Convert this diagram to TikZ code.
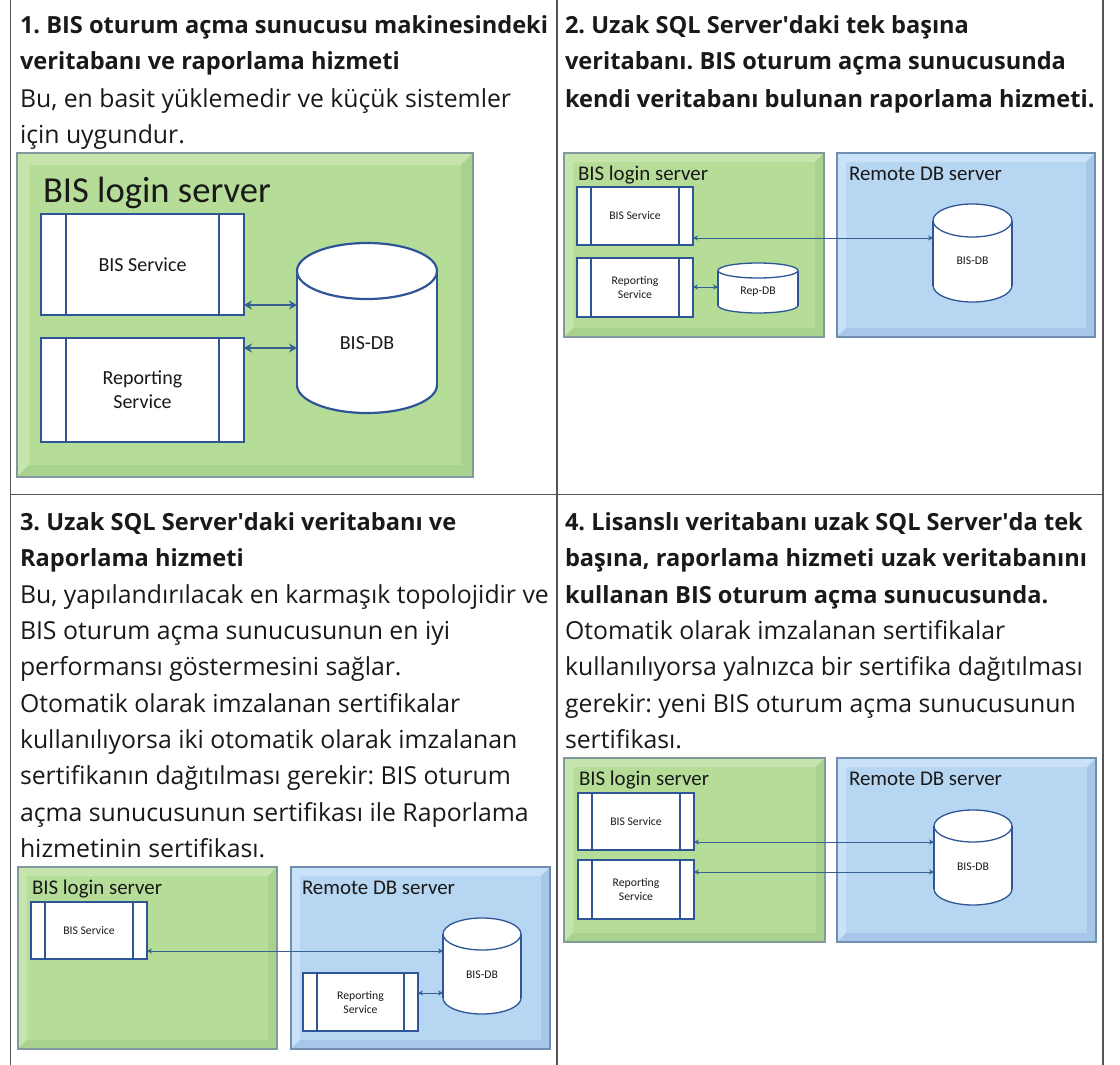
\documentclass[tikz,border=0pt]{standalone}
\usepackage{fontspec}
\setmainfont{Open Sans}
\newfontfamily\calfont{Carlito}
\usetikzlibrary{arrows.meta}
\frenchspacing
\definecolor{txt}{RGB}{25,25,25}
\definecolor{rule}{RGB}{85,85,85}
\definecolor{gmain}{RGB}{181,221,152}
\definecolor{glight}{RGB}{197,229,173}
\definecolor{gdark}{RGB}{169,210,142}
\definecolor{gedge}{RGB}{128,152,158}
\definecolor{bmain}{RGB}{183,214,242}
\definecolor{blight}{RGB}{201,226,248}
\definecolor{bdark}{RGB}{166,199,232}
\definecolor{bedge}{RGB}{112,142,178}
\definecolor{sline}{RGB}{47,85,151}
\definecolor{acol}{RGB}{55,96,146}
\newcommand\bevelfill[3]{%
  \path (path picture bounding box.north west) coordinate (pNW)
        (path picture bounding box.north east) coordinate (pNE)
        (path picture bounding box.south west) coordinate (pSW)
        (path picture bounding box.south east) coordinate (pSE);
  \path ([xshift=#3,yshift=-#3]pNW) coordinate (qNW)
        ([xshift=-#3,yshift=-#3]pNE) coordinate (qNE)
        ([xshift=#3,yshift=#3]pSW) coordinate (qSW)
        ([xshift=-#3,yshift=#3]pSE) coordinate (qSE);
  \fill[#1] (pNW) -- (pNE) -- (qNE) -- (qNW) -- cycle;
  \fill[#1] (pNW) -- (qNW) -- (qSW) -- (pSW) -- cycle;
  \fill[#2] (pNE) -- (pSE) -- (qSE) -- (qNE) -- cycle;
  \fill[#2] (pSW) -- (pSE) -- (qSE) -- (qSW) -- cycle;
}
\newcommand\panel[6]{%
  \node[#6, anchor=north west, minimum width={#4-#2}, minimum height={#5-#3}] (#1) at (#2,#3) {};
}
\newcommand\svcbox[7]{% name x1 y1 x2 y2 style text
  \node[#6, anchor=north west, minimum width={#4-#2}, minimum height={#5-#3}] (#1) at (#2,#3) {#7};
}
\newcommand\dbcyl[7]{% name cx top bottom rx ry style
  \fill[white] (#2-#5,#3+#6) rectangle (#2+#5,#4-#6);
  \fill[white] (#2,#4-#6) ellipse [x radius=#5pt, y radius=#6pt];
  \begin{scope}
    \clip (#2-#5-5,#4-#6) rectangle (#2+#5+5,#4+5);
    \draw[#7] (#2,#4-#6) ellipse [x radius=#5pt, y radius=#6pt];
  \end{scope}
  \draw[#7] (#2-#5,#3+#6) -- (#2-#5,#4-#6) (#2+#5,#3+#6) -- (#2+#5,#4-#6);
  \draw[#7, fill=white] (#2,#3+#6) ellipse [x radius=#5pt, y radius=#6pt];
  \node[minimum width={2*#5}, minimum height={#4-#3}] (#1) at (#2,{(#3+#4)/2}) {};
}
\tikzset{
  every node/.style={inner sep=0pt, outer sep=0pt},
  ttl/.style={anchor=base west, text=txt, font=\fontsize{23.6}{28}\selectfont\bfseries},
  bdy/.style={anchor=base west, text=txt, font=\fontsize{24.8}{28}\selectfont},
  gpanel/.style={draw=gedge, line width=1.6pt, fill=gmain, path picture={\bevelfill{glight}{gdark}{#1}}},
  bpanel/.style={draw=bedge, line width=1.6pt, fill=bmain, path picture={\bevelfill{blight}{bdark}{#1}}},
  svc/.style 2 args={draw=sline, fill=white, line width=#2, align=center, text=txt,
    path picture={\draw[sline, line width=#2] ([xshift=#1]path picture bounding box.north west) -- ([xshift=#1]path picture bounding box.south west);
                  \draw[sline, line width=#2] ([xshift=-#1]path picture bounding box.north east) -- ([xshift=-#1]path picture bounding box.south east);}},
  bigsvc/.style={svc={25pt}{2.2pt}, font=\calfont\fontsize{20}{24}\selectfont},
  smsvc/.style={svc={14pt}{1.3pt}, font=\calfont\fontsize{11.7}{14}\selectfont},
  bigcyl/.style={draw=sline, line width=2.2pt},
  smcyl/.style={draw=sline, line width=1.3pt},
  bighead/.style={anchor=base west, text=txt, font=\calfont\fontsize{36.6}{40}\selectfont},
  smhead/.style={anchor=base west, text=txt, font=\calfont\fontsize{20.9}{24}\selectfont},
  biglab/.style={text=txt, font=\calfont\fontsize{20}{24}\selectfont},
  smlab/.style={text=txt, font=\calfont\fontsize{11.7}{14}\selectfont},
  bigarr/.style={draw=acol, line width=2.2pt, {Stealth[length=8pt,width=9pt]}-{Stealth[length=8pt,width=9pt]}},
  smarr/.style={draw=acol, line width=1pt, {Stealth[length=5pt,width=5pt]}-{Stealth[length=5pt,width=5pt]}},
  tline/.style={draw=rule, line width=1.8pt}
}
\begin{document}
\begin{tikzpicture}[x=1pt,y=-1pt]
\useasboundingbox (0,0) rectangle (1120,1065);
\fill[white] (0,0) rectangle (1120,1065);
% table rules
\coordinate (L0) at (10.5,0); \coordinate (L1) at (10.5,1065);
\coordinate (M0) at (557,0); \coordinate (M1) at (557,1065);
\coordinate (R0) at (1103,0); \coordinate (R1) at (1103,1065);
\coordinate (H0) at (10.5,494.5); \coordinate (H1) at (1103,494.5);
\draw[tline] (L0) -- (L1); \draw[tline] (M0) -- (M1); \draw[tline] (R0) -- (R1); \draw[tline] (H0) -- (H1);

% ---------- panel 1 text
\node[ttl] (t1a) at (20,34) {1. BIS oturum açma sunucusu makinesindeki};
\node[ttl] (t1b) at (20,70) {veritabanı ve raporlama hizmeti};
\node[bdy] (t1c) at (20,107) {Bu, en basit yüklemedir ve küçük sistemler};
\node[bdy] (t1d) at (20,143) {için uygundur.};
% ---------- panel 2 text
\node[ttl] (t2a) at (565,34) {2. Uzak SQL Server\textquotesingle daki tek başına};
\node[ttl] (t2b) at (565,70) {veritabanı. BIS oturum açma sunucusunda};
\node[ttl] (t2c) at (565,107) {kendi veritabanı bulunan raporlama hizmeti.};
% ---------- panel 3 text
\node[ttl] (t3a) at (20,530) {3. Uzak SQL Server\textquotesingle daki veritabanı ve};
\node[ttl] (t3b) at (20,566) {Raporlama hizmeti};
\node[bdy] (t3c) at (20,603) {Bu, yapılandırılacak en karmaşık topolojidir ve};
\node[bdy] (t3d) at (20,639) {BIS oturum açma sunucusunun en iyi};
\node[bdy] (t3e) at (20,675) {performansı göstermesini sağlar.};
\node[bdy] (t3f) at (20,712) {Otomatik olarak imzalanan sertifikalar};
\node[bdy] (t3g) at (20,748) {kullanılıyorsa iki otomatik olarak imzalanan};
\node[bdy] (t3h) at (20,784) {sertifikanın dağıtılması gerekir: BIS oturum};
\node[bdy] (t3i) at (20,821) {açma sunucusunun sertifikası ile Raporlama};
\node[bdy] (t3j) at (20,857) {hizmetinin sertifikası.};
% ---------- panel 4 text
\node[ttl] (t4a) at (565,530) {4. Lisanslı veritabanı uzak SQL Server\textquotesingle da tek};
\node[ttl] (t4b) at (565,566) {başına, raporlama hizmeti uzak veritabanını};
\node[ttl] (t4c) at (565,603) {kullanan BIS oturum açma sunucusunda.};
\node[bdy] (t4d) at (565,639) {Otomatik olarak imzalanan sertifikalar};
\node[bdy] (t4e) at (565,675) {kullanılıyorsa yalnızca bir sertifika dağıtılması};
\node[bdy] (t4f) at (565,712) {gerekir: yeni BIS oturum açma sunucusunun};
\node[bdy] (t4g) at (565,748) {sertifikası.};

% ================= diagram 1
\panel{g1}{17}{153}{473}{477}{gpanel=12pt}
\node[bighead] (h1) at (43,202) {BIS login server};
\svcbox{s1a}{41}{214}{244}{315}{bigsvc}{BIS Service};
\svcbox{s1b}{41}{338}{244}{442}{bigsvc}{Reporting\\Service};
\dbcyl{d1}{367}{243}{413}{70}{28}{bigcyl}
\node[biglab] (d1l) at (367,343) {BIS-DB};
\coordinate (y1a) at (0,305); \coordinate (y1b) at (0,348);
\draw[bigarr] (s1a.east |- y1a) -- (d1.west |- y1a);
\draw[bigarr] (s1b.east |- y1b) -- (d1.west |- y1b);

% ================= diagram 2
\panel{g2}{564}{153}{824}{337}{gpanel=9pt}
\panel{b2}{837}{153}{1095}{337}{bpanel=9pt}
\node[smhead] (h2a) at (578,180) {BIS login server};
\node[smhead] (h2b) at (849,180) {Remote DB server};
\svcbox{s2a}{577}{187}{693}{245}{smsvc}{BIS Service};
\svcbox{s2b}{577}{258}{693}{317}{smsvc}{Reporting\\Service};
\dbcyl{r2}{758}{263}{313}{40}{7.5}{smcyl}
\node[smlab] (r2l) at (758,292) {Rep-DB};
\dbcyl{d2}{972.5}{204}{302}{39.5}{16.5}{smcyl}
\node[smlab] (d2l) at (972.5,261) {BIS-DB};
\coordinate (y2a) at (0,238); \coordinate (y2b) at (0,287);
\draw[smarr] (s2a.east |- y2a) -- (d2.west |- y2a);
\draw[smarr] (s2b.east |- y2b) -- (r2.west |- y2b);

% ================= diagram 3
\panel{g3}{18}{867}{277}{1049}{gpanel=9pt}
\panel{b3}{291}{867}{550}{1049}{bpanel=9pt}
\node[smhead] (h3a) at (32,894) {BIS login server};
\node[smhead] (h3b) at (302,894) {Remote DB server};
\svcbox{s3a}{31}{902}{147}{959}{smsvc}{BIS Service};
\svcbox{s3b}{303}{973}{418}{1031}{smsvc}{Reporting\\Service};
\dbcyl{d3}{482}{918}{1014}{39}{16}{smcyl}
\node[smlab] (d3l) at (482,975) {BIS-DB};
\coordinate (y3a) at (0,951); \coordinate (y3b) at (0,993);
\draw[smarr] (s3a.east |- y3a) -- (d3.west |- y3a);
\draw[smarr] (s3b.east |- y3b) -- (d3.west |- y3b);

% ================= diagram 4
\panel{g4}{564}{758}{825}{942}{gpanel=9pt}
\panel{b4}{837}{758}{1096}{942}{bpanel=9pt}
\node[smhead] (h4a) at (579,785) {BIS login server};
\node[smhead] (h4b) at (849,785) {Remote DB server};
\svcbox{s4a}{578}{793}{694}{850}{smsvc}{BIS Service};
\svcbox{s4b}{578}{860}{694}{919}{smsvc}{Reporting\\Service};
\dbcyl{d4}{973}{810}{905}{39}{16}{smcyl}
\node[smlab] (d4l) at (973,867) {BIS-DB};
\coordinate (y4a) at (0,842); \coordinate (y4b) at (0,872);
\draw[smarr] (s4a.east |- y4a) -- (d4.west |- y4a);
\draw[smarr] (s4b.east |- y4b) -- (d4.west |- y4b);
\end{tikzpicture}
\end{document}
